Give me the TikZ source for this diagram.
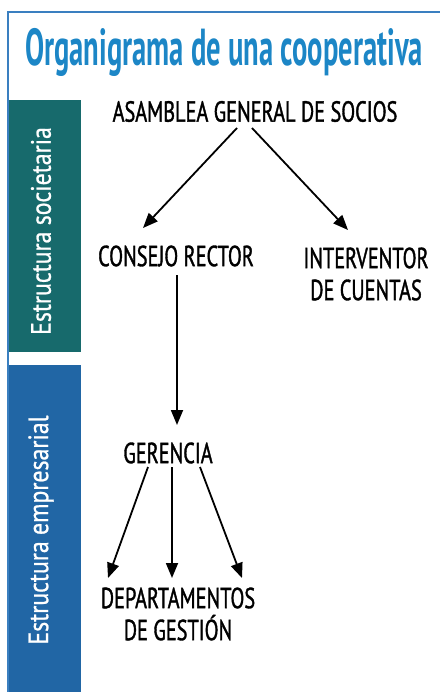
\documentclass[tikz,border=0pt]{standalone}
\usepackage{fontspec}
\setmainfont{PT Sans}
\newfontfamily\titlefont[FakeStretch=0.55]{PT Sans Bold}
\newfontfamily\orgfont[FakeStretch=0.70, FakeBold=1.2]{PT Sans}
\newfontfamily\bandfont[FakeStretch=0.85, FakeBold=0.8]{PT Sans}
\usepackage{tikz}
\usetikzlibrary{arrows.meta}
\definecolor{frameblue}{HTML}{3A7FC0}
\definecolor{titleblue}{HTML}{1C86C6}
\definecolor{bandgreen}{HTML}{176A6C}
\definecolor{bandblue}{HTML}{2166A5}
\tikzset{org/.style={align=center, font=\orgfont\fontsize{29}{32}\selectfont, inner sep=1pt},
  band/.style={rotate=90, text=white, font=\bandfont\fontsize{28}{30}\selectfont},
  link/.style={-{Triangle[length=15pt, width=12pt]}, line width=1.8pt}}
\begin{document}
\begin{tikzpicture}[x=1pt, y=-1pt]
\useasboundingbox (0,0) rectangle (440,692);
% marco
\draw [frameblue, line width=2pt] (8,692) -- (8,12) -- (440,12);
\fill [bandgreen] (9,100) rectangle (81,352);
\fill [bandblue] (9,365) rectangle (81,692);
\node at (41,231) [band] (soc) {Estructura societaria};
\node at (41,530) [band] (emp) {Estructura empresarial};
\node at (224,66) [anchor=base, text=titleblue, font=\titlefont\fontsize{52}{56}\selectfont] (title) {Organigrama de una cooperativa};
% nodos
\node at (255,111.5) [org] (asam) {ASAMBLEA GENERAL DE SOCIOS};
\node at (176,256) [org] (cons) {CONSEJO RECTOR};
\node at (366,274) [org] (inter) {INTERVENTOR\\DE CUENTAS};
\node at (168,453) [org] (ger) {GERENCIA};
\node at (178,614) [org] (dep) {DEPARTAMENTOS\\DE GESTIÓN};
\draw [link] ([shift={(-18,16.5)}]asam.center) to ([shift={(-33,-28)}]cons.center);
\draw [link] ([shift={(-3,16.5)}]asam.center) to ([shift={(-18,-44)}]inter.center);
\draw [link] ([shift={(1,19)}]cons.center) to ([shift={(9,-28)}]ger.center);
\draw [link] ([shift={(-20,14)}]ger.center) to ([shift={(-70,-36)}]dep.center);
\draw [link] ([shift={(4,14)}]ger.center) to ([shift={(-6,-36)}]dep.center);
\draw [link] ([shift={(32,14)}]ger.center) to ([shift={(64,-36)}]dep.center);
\end{tikzpicture}
\end{document}
